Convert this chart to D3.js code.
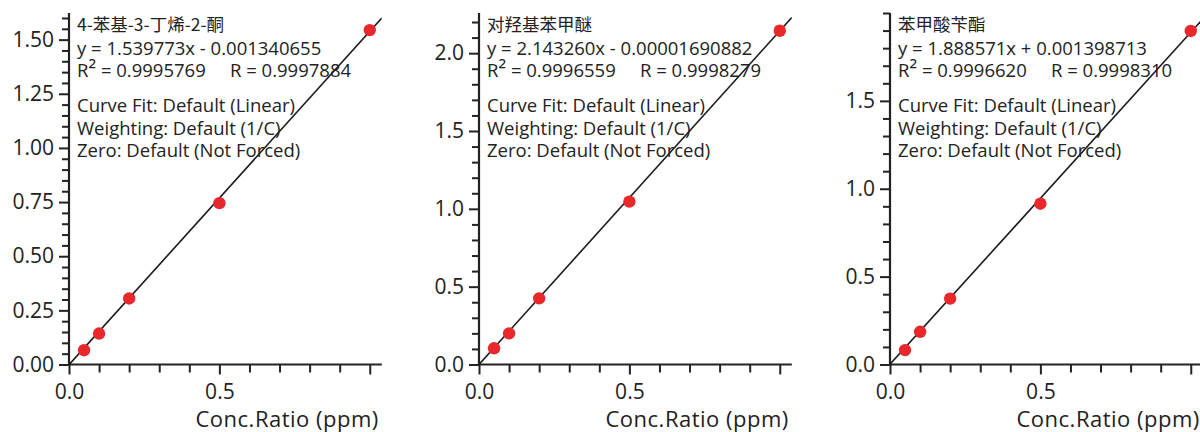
<!DOCTYPE html>
<html>
<head>
<meta charset="utf-8">
<script src="https://cdn.jsdelivr.net/npm/d3@7"></script>
<style>
  body { margin: 0; background: #fff; }
  text { font-family: "Open Sans", "Noto Sans CJK SC", sans-serif; fill: #222; }
  .cjk { font-family: "Noto Sans CJK SC", sans-serif; }
</style>
</head>
<body>
<div id="SVGContainer"></div>
<script>
  // calibration data, one series per compound
  const conc = [0.05, 0.1, 0.2, 0.5, 1.0]
  const names = ['4-苯基-3-丁烯-2-酮', '对羟基苯甲醚', '苯甲酸苄酯']
  const respA = [0.066, 0.143, 0.305, 0.745, 1.544]
  const respB = [0.104, 0.200, 0.425, 1.046, 2.144]
  const respC = [0.082, 0.186, 0.375, 0.915, 1.898]
  const slopes = [1.539773, 2.143260, 1.888571]
  const intercepts = [-0.001340655, -0.00001690882, 0.001398713]
  const eqTexts = ['y = 1.539773x - 0.001340655', 'y = 2.143260x - 0.00001690882', 'y = 1.888571x + 0.001398713']
  const r2Values = ['0.9995769', '0.9996559', '0.9996620']
  const rTexts = ['R = 0.9997884', 'R = 0.9998279', 'R = 0.9998310']
  const yMax = [1.623, 2.258, 2.0]
  const yMajor = [[0, 0.25, 0.5, 0.75, 1.0, 1.25, 1.5], [0, 0.5, 1.0, 1.5, 2.0], [0, 0.5, 1.0, 1.5]]
  const yMinorStep = [0.05, 0.1, 0.1]
  const yFormat = ['.2f', '.1f', '.1f']
  const xMajor = [0, 0.5, 1.0]
  const xLabeled = [0, 0.5]
  const xMinor = [0.1, 0.2, 0.3, 0.4, 0.6, 0.7, 0.8, 0.9]
  const infoLines = ['Curve Fit: Default (Linear)', 'Weighting: Default (1/C)', 'Zero: Default (Not Forced)']

  const responses = [respA, respB, respC]

  const width = 1200
  const height = 432
  const originX = [69, 479, 890]
  const y0 = 364.5
  const yTop = 13
  const xMax = 1.04
  const xLen = 312.8

  const svg = d3.select('#SVGContainer')
    .append('svg')
    .attr('width', width)
    .attr('height', height)

  names.forEach((name, i) => {
    const ox = originX[i]
    const xScale = d3.scaleLinear().domain([0, xMax]).range([ox, ox + xLen])
    const yScale = d3.scaleLinear().domain([0, yMax[i]]).range([y0, yTop])

    const g = svg.append('g').attr('class', 'panel')

    // clip for the fit line
    g.append('clipPath')
      .attr('id', 'clip' + i)
      .append('rect')
      .attr('x', ox)
      .attr('y', yTop)
      .attr('width', xLen)
      .attr('height', y0 - yTop)

    // minor ticks
    const minorY = d3.range(0, yMax[i] + 1e-9, yMinorStep[i])
      .filter(v => !yMajor[i].some(m => Math.abs(m - v) < 1e-6))
    g.append('g')
      .attr('transform', `translate(${ox},0)`)
      .call(d3.axisLeft(yScale).tickValues(minorY).tickSize(7).tickSizeOuter(0).tickFormat(''))
      .call(a => a.select('.domain').remove())

    g.append('g')
      .attr('transform', `translate(0,${y0})`)
      .call(d3.axisBottom(xScale).tickValues(xMinor).tickSize(8).tickSizeOuter(0).tickFormat(''))
      .call(a => a.select('.domain').remove())

    // major ticks
    g.append('g')
      .attr('class', 'y axis')
      .attr('transform', `translate(${ox},0)`)
      .call(d3.axisLeft(yScale).tickValues(yMajor[i]).tickSize(10).tickPadding(5)
        .tickSizeOuter(0).tickFormat(d3.format(yFormat[i])))
      .call(a => a.select('.domain').remove())
      .selectAll('text')
      .style('font-size', '21px')

    g.append('g')
      .attr('class', 'x axis')
      .attr('transform', `translate(0,${y0})`)
      .call(d3.axisBottom(xScale).tickValues(xMajor).tickSize(10).tickPadding(10)
        .tickSizeOuter(0).tickFormat(d => xLabeled.includes(d) ? d3.format('.1f')(d) : ''))
      .call(a => a.select('.domain').remove())
      .selectAll('text')
      .style('font-size', '21px')

    g.selectAll('.tick line')
      .attr('stroke', '#222')
      .attr('stroke-width', 2)

    // axis lines
    g.append('line')
      .attr('x1', ox).attr('x2', ox)
      .attr('y1', y0 + 1).attr('y2', yTop)
      .attr('stroke', '#222').attr('stroke-width', 2.2)
    g.append('line')
      .attr('x1', ox - 1).attr('x2', ox + xLen)
      .attr('y1', y0).attr('y2', y0)
      .attr('stroke', '#222').attr('stroke-width', 2.2)

    // fit line
    g.append('line')
      .attr('clip-path', `url(#clip${i})`)
      .attr('x1', xScale(0))
      .attr('y1', yScale(intercepts[i]))
      .attr('x2', xScale(xMax))
      .attr('y2', yScale(slopes[i] * xMax + intercepts[i]))
      .attr('stroke', '#1a1a1a')
      .attr('stroke-width', 1.6)

    // points
    g.selectAll('circle')
      .data(conc.map((c, k) => ({ c, r: responses[i][k] })))
      .enter()
      .append('circle')
      .attr('cx', d => xScale(d.c))
      .attr('cy', d => yScale(d.r))
      .attr('r', 6.2)
      .attr('fill', '#e8282b')

    // annotation text
    const tx = ox + 8
    g.append('text')
      .attr('class', 'cjk')
      .attr('x', tx).attr('y', 31)
      .style('font-size', '17.5px')
      .text(name)
    g.append('text')
      .attr('x', tx).attr('y', 55)
      .style('font-size', '18.5px')
      .text(eqTexts[i])
    const r2 = g.append('text')
      .attr('x', tx).attr('y', 77)
      .style('font-size', '18.5px')
    r2.append('tspan').text('R')
    r2.append('tspan').style('font-size', '22px').text('²')
    r2.append('tspan').text(' = ' + r2Values[i])
    g.append('text')
      .attr('x', ox + 161).attr('y', 77)
      .style('font-size', '18.5px')
      .text(rTexts[i])
    g.selectAll('.info')
      .data(infoLines)
      .enter()
      .append('text')
      .attr('class', 'info')
      .attr('x', tx)
      .attr('y', (d, k) => 112 + k * 22.5)
      .style('font-size', '18.5px')
      .text(d => d)

    // axis title
    g.append('text')
      .attr('x', ox + xLen - 3)
      .attr('y', 427)
      .attr('text-anchor', 'end')
      .style('font-size', '22px')
      .style('letter-spacing', '0.5px')
      .text('Conc.Ratio (ppm)')
  })
</script>
</body>
</html>
